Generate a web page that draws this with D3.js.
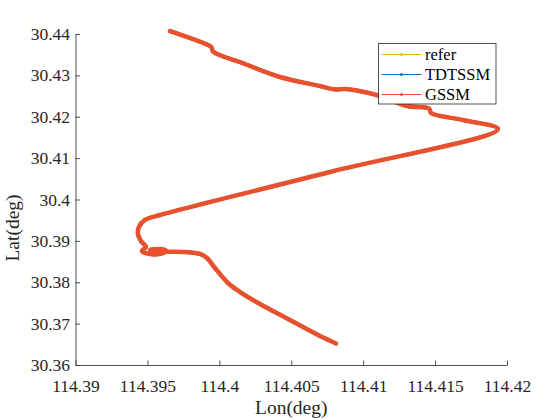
<!DOCTYPE html>
<html><head><meta charset="utf-8">
<script src="https://cdn.jsdelivr.net/npm/d3@7"></script>
<style>body{margin:0;background:#fff}svg{display:block}</style>
</head><body><svg id="c" width="560" height="420"></svg>
<script>
const lon = [114.39657,114.39935,114.39949,114.39956,114.40178,114.40422,114.40700,114.40804,114.40874,114.40992,114.41117,114.41305,114.41458,114.41472,114.41694,114.41937,114.40769,114.39587,114.39483,114.39441,114.39434,114.39455,114.39490,114.39462,114.39518,114.39601,114.39629,114.39574,114.39518,114.39587,114.39761,114.39866,114.39914,114.39970,114.40060,114.40144,114.40283,114.40491,114.40700,114.40811];
const lat = [30.44072,30.43710,30.43661,30.43577,30.43275,30.42961,30.42743,30.42659,30.42671,30.42610,30.42501,30.42260,30.42199,30.42091,30.41921,30.41704,30.40665,30.39625,30.39505,30.39335,30.39166,30.38997,30.38852,30.38755,30.38683,30.38695,30.38767,30.38804,30.38779,30.38743,30.38731,30.38683,30.38586,30.38344,30.37982,30.37764,30.37474,30.37088,30.36700,30.36520];
const seriesNames = ["refer","TDTSSM","GSSM"];
const seriesColors = ["#EDB120","#0072BD","#E9512E"];
const xTicks = [114.39,114.395,114.4,114.405,114.41,114.415,114.42];
const yTicks = [30.36,30.37,30.38,30.39,30.4,30.41,30.42,30.43,30.44];

const svg = d3.select("#c");
const L=75.5, R=507, T=34, B=365;
const x = d3.scaleLinear().domain([114.39,114.42]).range([L,R]);
const y = d3.scaleLinear().domain([30.36,30.44]).range([B,T]);
const font = "'Liberation Serif','Times New Roman',serif";
const ink = "#262626";

const pts = lon.map((v,i)=>[v,lat[i]]);
const line = d3.line().x(d=>x(d[0])).y(d=>y(d[1])).curve(d3.curveCatmullRom.alpha(0.5));
seriesNames.forEach((n,i)=>{
  svg.append("path").attr("d",line(pts)).attr("fill","none")
    .attr("stroke",seriesColors[i]).attr("stroke-width",i===2?4.5:3.5)
    .attr("stroke-linejoin","round").attr("stroke-linecap","round");
});

const xAx = svg.append("g").attr("transform",`translate(0,${B})`)
  .call(d3.axisBottom(x).tickValues(xTicks).tickFormat(d=>String(+d.toFixed(3))).tickSizeInner(-4.5).tickSizeOuter(0).tickPadding(10));
const yAx = svg.append("g").attr("transform",`translate(${L},0)`)
  .call(d3.axisLeft(y).tickValues(yTicks).tickFormat(d=>String(+d.toFixed(2))).tickSizeInner(-4.5).tickSizeOuter(0).tickPadding(5.5));
[xAx,yAx].forEach(g=>{
  g.select(".domain").attr("stroke",ink).attr("stroke-width",0.8);
  g.selectAll(".tick line").attr("stroke",ink).attr("stroke-width",0.8);
  g.selectAll(".tick text").attr("fill",ink).style("font-family",font).style("font-size","17.5px");
});
xAx.selectAll(".tick text").attr("dy","0.95em");

svg.append("text").attr("x",(L+R)/2).attr("y",414).attr("text-anchor","middle")
  .style("font-family",font).style("font-size","19.5px").attr("fill",ink).text("Lon(deg)");
svg.append("text").attr("transform","translate(19,228) rotate(-90)").attr("text-anchor","middle")
  .style("font-family",font).style("font-size","19.5px").attr("fill",ink).text("Lat(deg)");

// legend
const lg = svg.append("g");
lg.append("rect").attr("x",378.5).attr("y",43.5).attr("width",117.5).attr("height",60.5)
  .attr("fill","#fff").attr("stroke",ink).attr("stroke-width",0.8);
seriesNames.forEach((n,i)=>{
  const yy = 54.5 + i*20;
  lg.append("line").attr("x1",381.5).attr("x2",421.5).attr("y1",yy).attr("y2",yy)
    .attr("stroke",seriesColors[i]).attr("stroke-width",1);
  lg.append("circle").attr("cx",401.5).attr("cy",yy).attr("r",1.5).attr("fill",seriesColors[i]);
  lg.append("text").attr("x",425).attr("y",yy).attr("dy","0.35em")
    .style("font-family",font).style("font-size","16.5px").attr("fill","#000").text(n);
});
</script></body></html>
